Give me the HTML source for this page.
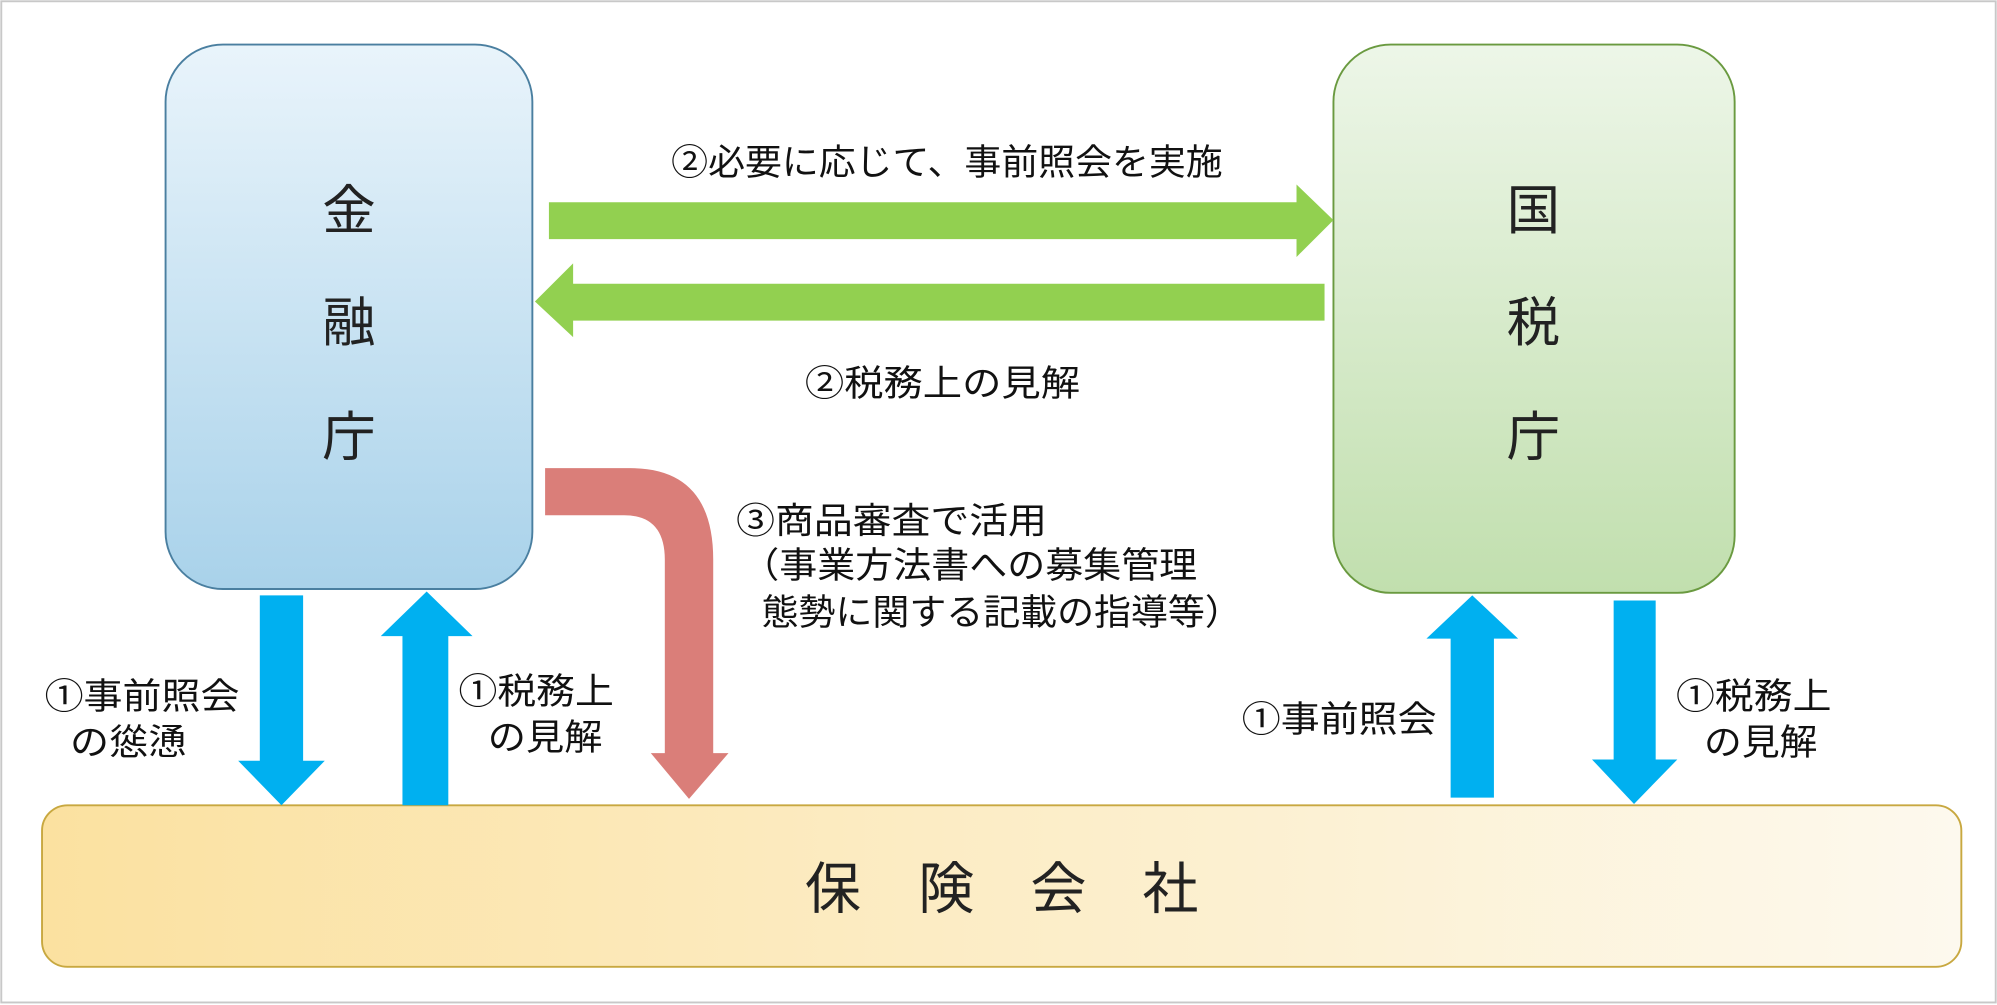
<!DOCTYPE html>
<html><head><meta charset="utf-8"><style>html,body{margin:0;padding:0;background:#fff}svg{display:block}</style></head><body>
<svg width="1997" height="1005" viewBox="0 0 1568 790" preserveAspectRatio="none" xmlns="http://www.w3.org/2000/svg" font-family="'Liberation Sans','Noto Sans CJK JP',sans-serif">
<defs>
<linearGradient id="gb" x1="0" y1="0" x2="0" y2="1"><stop offset="0" stop-color="#e9f4fb"/><stop offset="1" stop-color="#a9d2ea"/></linearGradient>
<linearGradient id="gg" x1="0" y1="0" x2="0" y2="1"><stop offset="0" stop-color="#edf6e8"/><stop offset="1" stop-color="#c1dfae"/></linearGradient>
<linearGradient id="gy" x1="0" y1="0" x2="1" y2="0"><stop offset="0" stop-color="#fbe1a0"/><stop offset="1" stop-color="#fdf9ee"/></linearGradient>
</defs>
<rect x="1" y="1" width="1566" height="787" fill="#fff" stroke="#c8c8c8" stroke-width="1.5"/>
<rect x="130" y="35" width="288" height="428" rx="45" fill="url(#gb)" stroke="#4a7fa0" stroke-width="1.5"/>
<rect x="1047" y="35" width="315" height="431" rx="45" fill="url(#gg)" stroke="#6a9a40" stroke-width="1.5"/>
<rect x="33" y="633" width="1507" height="127" rx="20" fill="url(#gy)" stroke="#c8a840" stroke-width="1.5"/>
<g font-size="42" fill="#222" text-anchor="middle">
<text x="274" y="180">金</text><text x="274" y="268">融</text><text x="274" y="358">庁</text>
<text x="1204" y="180">国</text><text x="1204" y="268">税</text><text x="1204" y="358">庁</text>
</g>
<g font-size="44" fill="#222" text-anchor="middle">
<text x="654" y="714">保</text><text x="743" y="714">険</text><text x="831" y="714">会</text><text x="919" y="714">社</text>
</g>
<polygon points="431,159 1018,159 1018,145 1047,173 1018,202 1018,188 431,188" fill="#92d050"/>
<polygon points="1040,223 450,223 450,207 420,237 450,265 450,252 1040,252" fill="#92d050"/>
<path d="M428,368 L495,368 Q560,368 560,440 L560,592 L572,592 L541,628 L511,592 L522,592 L522,440 Q522,405 490,405 L428,405 Z" fill="#da7e79"/>
<polygon points="204,468 238,468 238,598 255,598 221,633 187,598 204,598" fill="#00b0f0"/>
<polygon points="316,633 352,633 352,500 371,500 335,465 299,500 316,500" fill="#00b0f0"/>
<polygon points="1139,627 1173,627 1173,502 1192,502 1156,468 1120,502 1139,502" fill="#00b0f0"/>
<polygon points="1267,472 1300,472 1300,597 1317,597 1283,632 1250,597 1267,597" fill="#00b0f0"/>
<g font-size="28" fill="#111" lengthAdjust="spacingAndGlyphs">
<text x="527" y="137" textLength="433" lengthAdjust="spacingAndGlyphs">②必要に応じて、事前照会を実施</text>
<text x="632" y="311" textLength="216" lengthAdjust="spacingAndGlyphs">②税務上の見解</text>
<text x="578" y="419" textLength="244" lengthAdjust="spacingAndGlyphs">③商品審査で活用</text>
<text x="582" y="454" textLength="358" lengthAdjust="spacingAndGlyphs">（事業方法書への募集管理</text>
<text x="598" y="491" textLength="377" lengthAdjust="spacingAndGlyphs">態勢に関する記載の指導等）</text>
<text x="35" y="557" textLength="153" lengthAdjust="spacingAndGlyphs">①事前照会</text>
<text x="55" y="593" textLength="92" lengthAdjust="spacingAndGlyphs">の慫慂</text>
<text x="360" y="553" textLength="122" lengthAdjust="spacingAndGlyphs">①税務上</text>
<text x="383" y="589" textLength="90" lengthAdjust="spacingAndGlyphs">の見解</text>
<text x="975" y="575" textLength="153" lengthAdjust="spacingAndGlyphs">①事前照会</text>
<text x="1316" y="557" textLength="122" lengthAdjust="spacingAndGlyphs">①税務上</text>
<text x="1338" y="593" textLength="89" lengthAdjust="spacingAndGlyphs">の見解</text>
</g>
</svg>
</body></html>
